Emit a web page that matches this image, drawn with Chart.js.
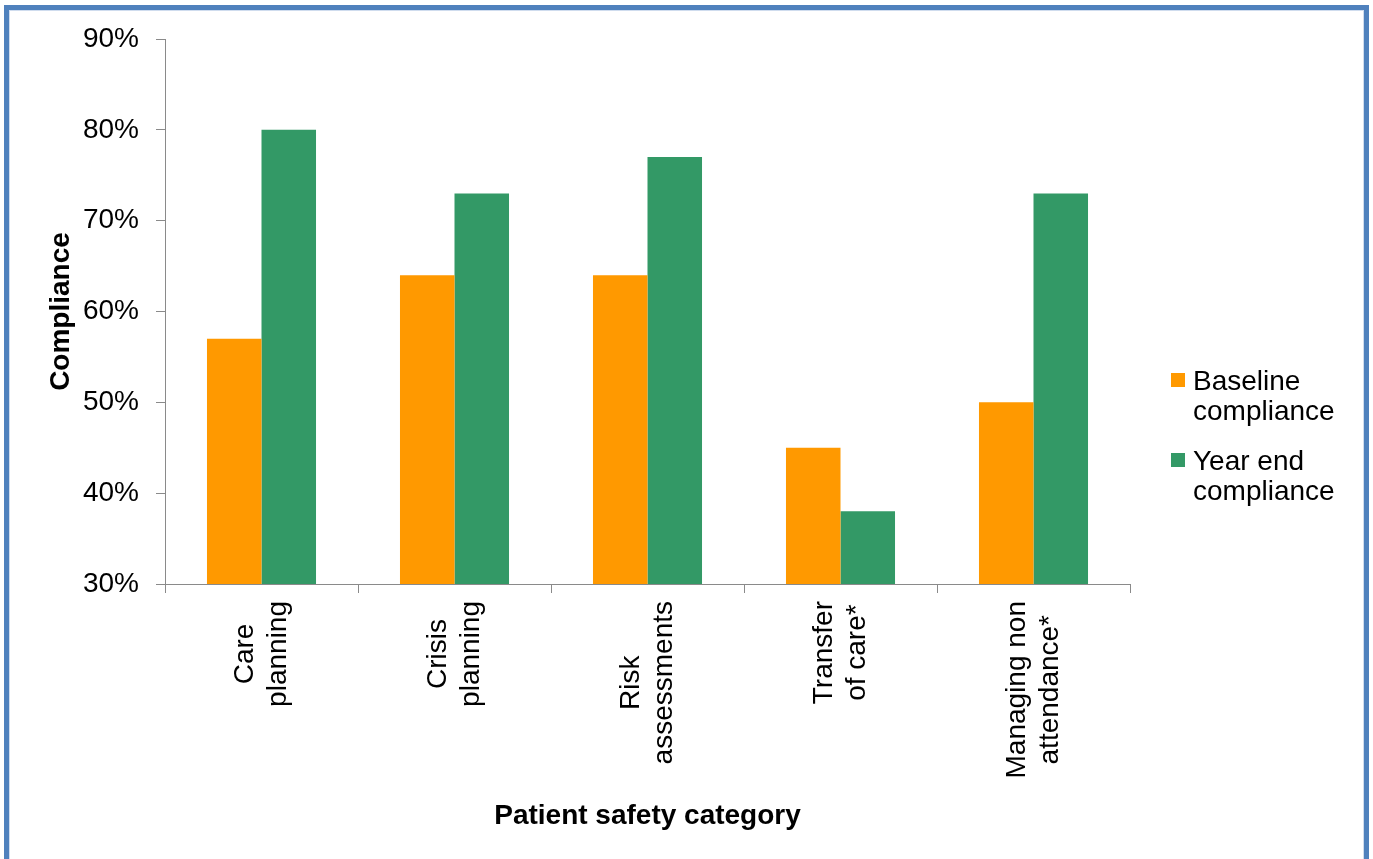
<!DOCTYPE html>
<html>
<head>
<meta charset="utf-8">
<title>Patient safety compliance</title>
<script src="https://cdn.jsdelivr.net/npm/chart.js@4/dist/chart.umd.min.js"></script>
<style>
  html, body { margin: 0; padding: 0; background: #ffffff; overflow: hidden; }
  #wrap { position: relative; width: 1373px; height: 859px; }
  #frame {
    position: absolute; left: 4px; top: 5px; width: 1355px; height: 900px;
    border: 5px solid #4F81BD; box-shadow: inset 0 0 0 1px #cfdcee;
  }
  canvas { position: absolute; left: 0; top: 0; }
</style>
</head>
<body>
<div id="wrap">
  <div id="frame"></div>
  <canvas id="chart" width="1373" height="859"></canvas>
</div>
<script>
// Categories (each entry is the wrapped lines of the axis label)
const categoryLines = [
  ['Care', 'planning'],
  ['Crisis', 'planning'],
  ['Risk', 'assessments'],
  ['Transfer', 'of care*'],
  ['Managing non', 'attendance*']
];

// Compliance per category, in percent
const baselineCompliance = [57, 64, 64, 45, 50];
const yearEndCompliance  = [80, 73, 77, 38, 73];

// Series names, wrapped as in the legend
const baselineName = ['Baseline', 'compliance'];
const yearEndName  = ['Year end', 'compliance'];

// Y axis range and tick step (percent)
const yMin = 30;
const yMax = 90;
const yStep = 10;

const FONT = '"Liberation Sans", Arial, Helvetica, sans-serif';
const FONT_SIZE = 28;
const AXIS_GREY = '#8a8a8a';

// Category labels: rotated, lines centred on each other
const categoryLabelPlugin = {
  id: 'categoryLabels',
  afterDraw(chart) {
    const ctx = chart.ctx;
    const xs = chart.scales.x;
    const lineH = 33;
    const topY = 601;
    ctx.save();
    ctx.font = FONT_SIZE + 'px ' + FONT;
    ctx.fillStyle = '#000000';
    ctx.textAlign = 'center';
    ctx.textBaseline = 'middle';
    categoryLines.forEach((lines, i) => {
      const x = xs.getPixelForValue(i);
      const maxW = Math.max(...lines.map(l => ctx.measureText(l).width));
      const cy = topY + maxW / 2;
      ctx.save();
      ctx.translate(x, cy);
      ctx.rotate(-Math.PI / 2);
      lines.forEach((l, k) => {
        const off = (k - (lines.length - 1) / 2) * lineH;
        ctx.fillText(l, 0, off);
      });
      ctx.restore();
    });
    ctx.restore();
  }
};

// Legend on the right with wrapped entries
const wrappedLegendPlugin = {
  id: 'wrappedLegend',
  afterDraw(chart) {
    const ctx = chart.ctx;
    const left = 1171, top = 373, box = 14, lineH = 30, entryGap = 80;
    ctx.save();
    ctx.font = FONT_SIZE + 'px ' + FONT;
    ctx.textAlign = 'left';
    ctx.textBaseline = 'alphabetic';
    chart.data.datasets.forEach((ds, i) => {
      const y = top + i * entryGap;
      ctx.fillStyle = ds.backgroundColor;
      ctx.fillRect(left, y, box, box);
      ctx.fillStyle = '#000000';
      ds.legendLines.forEach((l, k) => {
        ctx.fillText(l, left + 22, y + 17 + k * lineH);
      });
    });
    ctx.restore();
  }
};

new Chart(document.getElementById('chart'), {
  type: 'bar',
  data: {
    labels: categoryLines.map(l => l.join(' ')),
    datasets: [
      {
        label: baselineName.join(' '),
        legendLines: baselineName,
        data: baselineCompliance,
        backgroundColor: '#FF9900',
        borderWidth: 0,
        barPercentage: 1.0,
        categoryPercentage: 0.565
      },
      {
        label: yearEndName.join(' '),
        legendLines: yearEndName,
        data: yearEndCompliance,
        backgroundColor: '#339966',
        borderWidth: 0,
        barPercentage: 1.0,
        categoryPercentage: 0.565
      }
    ]
  },
  options: {
    responsive: false,
    animation: false,
    layout: { padding: { left: 0, right: 243, top: 39, bottom: 0 } },
    plugins: {
      legend: { display: false },
      tooltip: { enabled: false },
      title: { display: false }
    },
    scales: {
      x: {
        grid: {
          display: true,
          drawOnChartArea: false,
          drawTicks: true,
          tickLength: 9,
          tickColor: AXIS_GREY,
          offset: true
        },
        border: { display: true, color: AXIS_GREY, width: 1 },
        ticks: { display: false },
        title: {
          display: true,
          text: 'Patient safety category',
          color: '#000000',
          font: { family: FONT, size: FONT_SIZE, weight: 'bold' },
          padding: { top: 0, bottom: 26 }
        },
        afterFit(scale) { scale.height = 859 - 584; }
      },
      y: {
        min: yMin,
        max: yMax,
        grid: {
          display: true,
          drawOnChartArea: false,
          drawTicks: true,
          tickLength: 9,
          tickColor: AXIS_GREY
        },
        border: { display: true, color: AXIS_GREY, width: 1 },
        ticks: {
          stepSize: yStep,
          color: '#000000',
          padding: 17,
          font: { family: FONT, size: FONT_SIZE },
          callback: v => v + '%'
        },
        title: {
          display: true,
          text: 'Compliance',
          color: '#000000',
          font: { family: FONT, size: FONT_SIZE, weight: 'bold' },
          padding: { top: 44, bottom: 0 }
        },
        afterFit(scale) { scale.width = 165; }
      }
    }
  },
  plugins: [categoryLabelPlugin, wrappedLegendPlugin]
});
</script>
</body>
</html>
